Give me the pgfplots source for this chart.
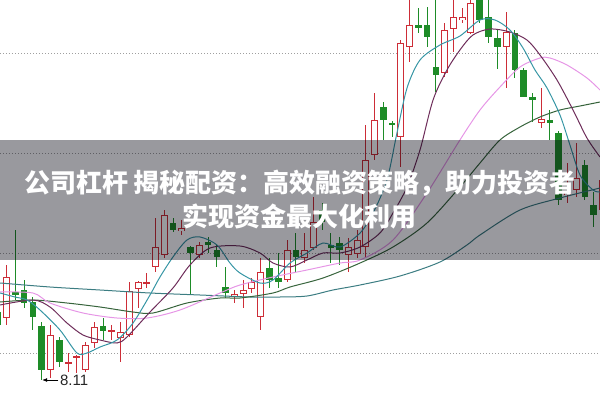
\documentclass[border=0pt]{standalone}
\usepackage{fontspec}
\usepackage{pgfplots}
\pgfplotsset{compat=1.18}
\usepackage{pgfplotstable}
\usetikzlibrary{arrows.meta}
\newfontfamily\cjk{Noto Sans CJK SC}
\newfontfamily\numfont{Liberation Sans}
\definecolor{cRed}{RGB}{205,45,55}
\definecolor{cGreen}{RGB}{30,140,40}
\definecolor{maTeal}{RGB}{55,150,165}
\definecolor{maPurple}{RGB}{110,45,90}
\definecolor{maPink}{RGB}{230,150,230}
\definecolor{maDGreen}{RGB}{55,100,60}
\definecolor{maLong}{RGB}{60,125,130}
\definecolor{bandc}{RGB}{0,0,12}

% k open high low close (rising days)
\pgfplotstableread{
k o h l c
0 8.73 9.26 8.66 9.14
5 8.21 8.66 8.13 8.56
7 8.27 8.38 8.19 8.29
8 8.34 8.36 8.18 8.35
9 8.21 8.49 8.19 8.46
10 8.48 8.69 8.43 8.64
12 8.59 8.66 8.51 8.61
13 8.53 8.69 8.29 8.59
14 8.56 9.09 8.54 9.00
15 9.02 9.10 8.83 9.09
16 9.07 9.18 9.03 9.09
17 9.24 9.73 9.19 9.44
18 9.36 9.81 9.33 9.76
20 9.60 9.71 9.56 9.63
22 9.36 9.49 9.33 9.46
26 8.94 9.01 8.88 8.97
27 8.97 9.11 8.83 9.01
28 9.02 9.13 8.98 9.09
29 8.74 9.33 8.61 9.19
32 9.11 9.51 9.09 9.41
34 9.33 9.58 9.28 9.41
35 9.43 9.94 9.41 9.69
39 9.36 9.53 9.19 9.44
40 9.37 9.61 9.33 9.51
41 9.44 10.66 9.34 10.31
42 10.36 10.98 10.31 10.71
45 10.54 11.51 10.24 11.48
46 11.44 11.96 11.29 11.66
50 11.18 11.68 11.14 11.61
51 11.62 11.94 11.39 11.74
52 11.71 11.83 11.68 11.74
53 11.58 11.96 11.57 11.88
57 11.44 11.79 11.03 11.59
61 10.68 11.03 10.63 10.72
64 9.96 10.28 9.88 9.99
65 10.01 10.48 9.94 10.13
68 9.81 10.13 9.74 10.11
}\redC

% falling days
\pgfplotstableread{
k o h l c
-1 8.79 8.91 8.61 8.66
1 8.99 9.61 8.91 8.96
2 9.01 9.11 8.83 8.88
3 8.89 8.94 8.61 8.74
4 8.65 8.69 8.11 8.21
6 8.51 8.54 8.24 8.29
11 8.65 8.73 8.51 8.60
19 9.68 9.73 9.59 9.61
21 9.44 9.45 8.96 9.38
23 9.49 9.54 9.38 9.46
24 9.41 9.46 9.24 9.34
25 9.04 9.24 8.93 8.98
30 9.23 9.33 9.03 9.11
31 9.13 9.38 9.03 9.09
33 9.41 9.58 9.19 9.34
36 9.81 9.88 9.61 9.69
37 9.46 9.58 9.28 9.43
38 9.48 9.54 9.26 9.41
43 10.84 10.89 10.51 10.71
44 10.68 10.70 10.54 10.66
47 11.66 11.83 11.58 11.63
48 11.66 11.84 11.44 11.54
49 11.24 11.96 10.99 11.16
54 11.96 12.01 11.68 11.71
55 11.74 11.96 11.48 11.54
56 11.53 11.62 11.22 11.44
58 11.58 11.61 11.13 11.21
59 11.21 11.23 10.94 10.94
60 10.94 10.98 10.69 10.91
62 10.71 10.81 10.51 10.68
63 10.58 10.60 9.86 9.91
66 10.26 10.31 9.91 9.94
67 9.86 9.99 9.64 9.76
}\greenC

\pgfplotstableread{
d p
-0.76 8.98
0.95 8.94
2.32 8.91
3.80 8.81
6.08 8.61
8.02 8.38
9.17 8.38
10.65 8.44
12.59 8.51
14.42 8.68
16.36 8.96
17.50 9.14
18.98 9.34
20.58 9.51
22.07 9.54
24.01 9.46
25.49 9.28
26.63 9.18
28.91 9.08
30.40 9.11
32.34 9.28
34.28 9.38
36.11 9.48
38.05 9.44
40.34 9.58
41.82 9.78
43.41 10.11
44.55 10.58
45.70 11.03
47.18 11.31
49.46 11.46
51.74 11.55
54.03 11.71
55.74 11.71
57.45 11.61
58.94 11.43
60.31 11.21
61.68 11.03
63.16 10.76
64.30 10.46
65.45 10.16
66.93 10.01
67.73 9.99
}\maFive

\pgfplotstableread{
d p
-0.76 8.86
3.00 8.91
4.94 8.84
6.88 8.68
8.71 8.56
10.65 8.51
12.59 8.48
13.73 8.54
16.36 8.79
18.98 9.03
20.92 9.26
23.21 9.43
26.63 9.45
28.91 9.38
30.40 9.28
32.34 9.24
34.28 9.31
36.11 9.38
38.05 9.38
40.34 9.44
42.61 9.58
44.10 9.78
45.70 10.04
47.18 10.41
48.67 10.91
50.26 11.21
51.74 11.41
53.22 11.56
55.17 11.62
57.45 11.59
59.39 11.51
60.88 11.36
62.82 11.11
64.65 10.81
66.24 10.53
67.73 10.34
}\maTen

\pgfplotstableread{
d p
-0.76 8.99
3.00 8.98
4.94 8.88
8.71 8.78
12.59 8.73
16.02 8.73
19.78 8.81
24.35 8.98
26.63 9.06
30.40 9.14
34.28 9.21
38.05 9.28
40.34 9.31
44.10 9.51
47.98 9.98
51.74 10.51
54.03 10.81
56.31 11.04
58.60 11.24
60.88 11.33
62.02 11.33
63.96 11.26
66.24 11.13
67.73 11.01
}\maTwenty

\pgfplotstableread{
d p
-0.76 8.89
3.00 8.91
6.88 8.88
10.65 8.84
14.42 8.79
16.70 8.78
20.58 8.88
24.35 8.93
26.63 8.93
30.40 8.98
32.34 9.04
36.11 9.13
40.34 9.28
44.10 9.44
47.98 9.68
51.74 10.04
54.03 10.28
56.31 10.51
58.60 10.64
60.88 10.74
63.16 10.81
65.45 10.85
67.73 10.89
}\maThirty

\pgfplotstableread{
d p
-0.76 9.08
4.94 9.04
10.65 9.01
16.36 8.98
22.07 8.96
27.77 8.94
31.20 8.94
34.28 8.95
37.25 9.01
40.34 9.06
44.90 9.15
49.46 9.29
52.54 9.46
54.03 9.56
58.60 9.81
63.16 9.93
67.73 10.03
}\maSixty

\begin{document}
\begin{tikzpicture}
\begin{axis}[name=ax, scale only axis, width=600pt, height=400pt,
  xmin=-0.765, xmax=67.73, ymin=7.91, ymax=11.91,
  axis line style={draw=none}, tick style={draw=none},
  xtick=\empty, ytick=\empty,
  clip=true]

% dotted price grid lines
\pgfplotsinvokeforeach{8.38,9.38,10.38,11.38}{
  \addplot[forget plot, draw=gray!75, line width=0.9pt, dash pattern=on 1pt off 2pt, mark=none]
    coordinates {(-0.765,#1) (67.73,#1)};
}

% wicks
\addplot[draw=none, mark=none, forget plot, error bars/.cd, y dir=both, y explicit, error mark=none,
  error bar style={draw=cGreen, line width=1pt}]
  table[x=k, y expr={(\thisrow{h}+\thisrow{l})/2}, y error expr={(\thisrow{h}-\thisrow{l})/2}]{\greenC};
\addplot[draw=none, mark=none, forget plot, error bars/.cd, y dir=both, y explicit, error mark=none,
  error bar style={draw=cRed, line width=1pt}]
  table[x=k, y expr={(\thisrow{h}+\thisrow{l})/2}, y error expr={(\thisrow{h}-\thisrow{l})/2}]{\redC};
% bodies
\addplot[draw=none, mark=none, forget plot, error bars/.cd, y dir=both, y explicit, error mark=none,
  error bar style={draw=cGreen, line width=6.5pt}]
  table[x=k, y expr={(\thisrow{o}+\thisrow{c})/2}, y error expr={max(abs(\thisrow{o}-\thisrow{c})/2,0.008)}]{\greenC};
\addplot[draw=none, mark=none, forget plot, error bars/.cd, y dir=both, y explicit, error mark=none,
  error bar style={draw=cRed, line width=7pt}]
  table[x=k, y expr={(\thisrow{o}+\thisrow{c})/2}, y error expr={max(abs(\thisrow{o}-\thisrow{c})/2,0.008)}]{\redC};
\addplot[draw=none, mark=none, forget plot, error bars/.cd, y dir=both, y explicit, error mark=none,
  error bar style={draw=white, line width=5pt}]
  table[x=k, y expr={(\thisrow{o}+\thisrow{c})/2}, y error expr={max(abs(\thisrow{o}-\thisrow{c})/2-0.01,0)}]{\redC};

% moving averages
\addplot[maLong, line width=1pt, smooth, tension=0.5, mark=none] table[x=d,y=p]{\maSixty};
\addplot[maDGreen, line width=1pt, smooth, tension=0.5, mark=none] table[x=d,y=p]{\maThirty};
\addplot[maPink, line width=1pt, smooth, tension=0.5, mark=none] table[x=d,y=p]{\maTwenty};
\addplot[maPurple, line width=1pt, smooth, tension=0.5, mark=none] table[x=d,y=p]{\maTen};
\addplot[maTeal, line width=1pt, smooth, tension=0.5, mark=none] table[x=d,y=p]{\maFive};

% low annotation
\draw[-{Latex[length=5pt,width=4pt]}, line width=0.8pt, black] (axis cs:5.9,8.11) -- (axis cs:4.05,8.11);
\node[anchor=west, inner sep=1pt, text=black!85, font=\numfont\fontsize{15}{15}\selectfont] at (axis cs:5.95,8.11) {8.11};

% title band
\fill[bandc, fill opacity=0.4] (axis cs:-0.765,9.31) rectangle (axis cs:67.73,10.51);
\node[text=white, font=\cjk\bfseries\fontsize{26}{30}\selectfont] at (axis cs:33.48,10.08) {公司杠杆 揭秘配资：高效融资策略，助力投资者};
\node[text=white, font=\cjk\bfseries\fontsize{26}{30}\selectfont] at (axis cs:33.48,9.75) {实现资金最大化利用};
\end{axis}
\pgfresetboundingbox
\path[use as bounding box] (ax.south west) rectangle (ax.north east);
\end{tikzpicture}
\end{document}
